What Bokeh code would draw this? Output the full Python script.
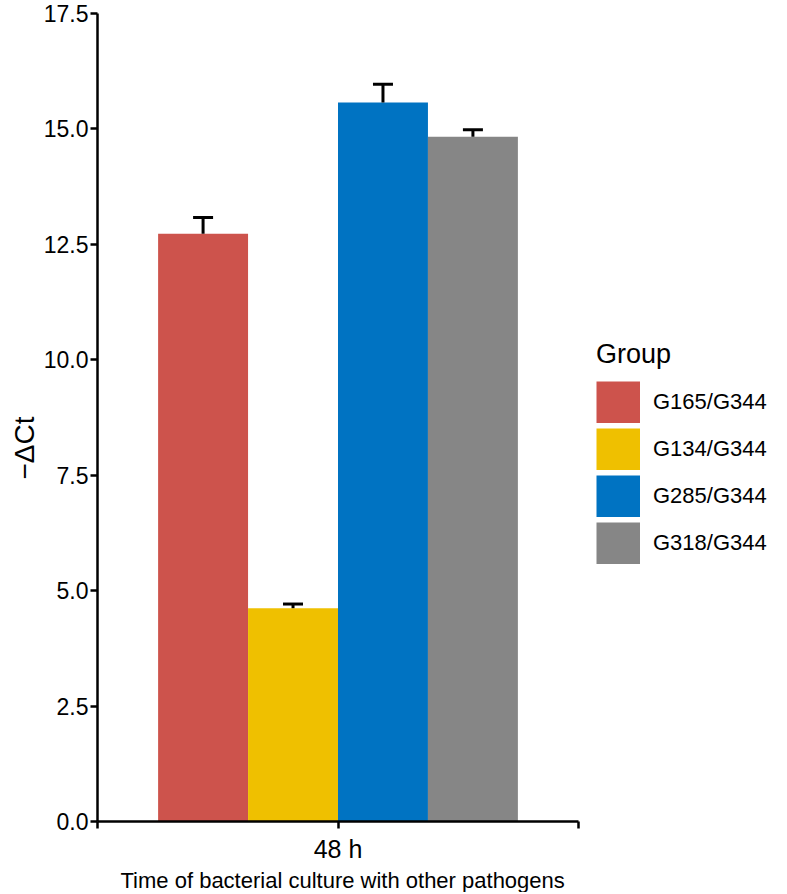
from bokeh.plotting import figure
from bokeh.models import (ColumnDataSource, FixedTicker, Whisker, TeeHead,
                          Legend, LegendItem, NumeralTickFormatter, Title)
from bokeh.embed import file_html
from bokeh.resources import INLINE

# ---- data ----
time_points = ["48 h"]
groups = ["G165/G344", "G134/G344", "G285/G344", "G318/G344"]
mean_values = [12.73, 4.62, 15.57, 14.83]
upper_values = [13.08, 4.71, 15.97, 14.98]
colors = ["#CD534C", "#EFC000", "#0073C2", "#868686"]
y_ticks = [0.0, 2.5, 5.0, 7.5, 10.0, 12.5, 15.0, 17.5]

FONT = "Liberation Sans"

bar_w = 0.187
center = 0.5
n = len(groups)
xs = [center + (i - (n - 1) / 2) * bar_w for i in range(n)]

FIG_W, LEFT = 771, 97
x_end = (FIG_W - LEFT) / 481.0   # frame spans legend area too; axis bounded to [0, 1]

src = ColumnDataSource(dict(x=xs, top=mean_values, lower=mean_values,
                            upper=upper_values, color=colors, group=groups))

p = figure(width=FIG_W, height=892, x_range=(0, x_end), y_range=(0, 17.5),
           output_backend="svg", toolbar_location=None,
           min_border_left=LEFT, min_border_right=0, min_border_top=13,
           min_border_bottom=0)

p.xgrid.visible = False
p.ygrid.visible = False
p.outline_line_color = None
p.background_fill_color = "white"
p.border_fill_color = "white"

whisk = Whisker(base="x", upper="upper", lower="lower", source=src,
                dimension="height", line_color="black", line_width=3,
                upper_head=TeeHead(size=20, line_color="black", line_width=3),
                lower_head=None, level="overlay")
p.add_layout(whisk)

bars = p.vbar(x="x", top="top", bottom=0, width=bar_w, source=src,
              fill_color="color", line_color=None)
# legend swatch helper (full-size square swatches), drawn only in the legend
swatch = p.segment(x0="x", y0="top", x1="x", y1="top", source=src,
                   line_color="color", line_width=42, line_cap="butt",
                   visible=False)

# axes
p.xaxis.ticker = FixedTicker(ticks=[0, center, 1])
p.xaxis.bounds = (0, 1)
p.xaxis.major_label_overrides = {0: "", center: time_points[0], 1: ""}
p.yaxis.ticker = FixedTicker(ticks=y_ticks)
p.yaxis.formatter = NumeralTickFormatter(format="0.0")

for ax in (p.xaxis, p.yaxis):
    ax.axis_line_color = "black"
    ax.axis_line_width = 2.5
    ax.major_tick_line_color = "black"
    ax.major_tick_line_width = 2.5
    ax.major_tick_out = 7
    ax.major_tick_in = 0
    ax.minor_tick_line_color = None
    ax.major_label_text_font = FONT
    ax.major_label_text_color = "black"

p.yaxis.major_label_text_font_size = "23px"
p.yaxis.major_label_standoff = 2

p.xaxis.major_label_text_font_size = "25px"
p.xaxis.major_label_standoff = 6

y_title = Title(text="\u2212\u0394Ct", align="left", offset=342,
                vertical_align="middle", standoff=0,
                text_font=FONT, text_font_size="28px",
                text_font_style="normal", text_color="black")
p.add_layout(y_title, "left")

x_title = Title(text="Time of bacterial culture with other pathogens",
                align="left", offset=23, standoff=0,
                text_font=FONT, text_font_size="22px",
                text_font_style="normal", text_color="black")
p.add_layout(x_title, "below")

items = [LegendItem(label=g, renderers=[bars, swatch], index=i)
         for i, g in enumerate(groups)]
legend = Legend(items=items, title="Group", location=(499, 257),
                title_text_font=FONT, title_text_font_size="27px",
                title_text_font_style="normal", title_text_color="black",
                title_standoff=11,
                label_text_font=FONT, label_text_font_size="22px",
                label_text_color="black",
                glyph_width=44, glyph_height=42, label_height=42,
                label_standoff=13, spacing=5, padding=0, margin=0,
                border_line_color=None, background_fill_alpha=0)
p.add_layout(legend)

open("out.html", "w").write(file_html(p, INLINE))
